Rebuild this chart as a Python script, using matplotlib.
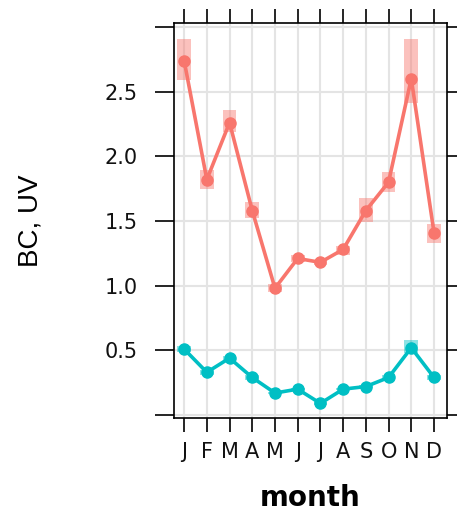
import matplotlib
matplotlib.use("Agg")
import matplotlib.pyplot as plt
import numpy as np

months = ["J", "F", "M", "A", "M", "J", "J", "A", "S", "O", "N", "D"]
bc_mean = [2.74, 1.82, 2.26, 1.58, 0.98, 1.21, 1.18, 1.28, 1.58, 1.80, 2.60, 1.41]
bc_low = [2.59, 1.75, 2.19, 1.52, 0.95, 1.18, 1.16, 1.24, 1.49, 1.72, 2.41, 1.33]
bc_high = [2.91, 1.89, 2.36, 1.65, 1.01, 1.24, 1.20, 1.31, 1.68, 1.88, 2.91, 1.48]
uv_mean = [0.51, 0.33, 0.44, 0.29, 0.17, 0.20, 0.09, 0.20, 0.22, 0.29, 0.52, 0.29]
uv_low = [0.49, 0.31, 0.42, 0.27, 0.16, 0.19, 0.08, 0.19, 0.21, 0.27, 0.48, 0.27]
uv_high = [0.53, 0.35, 0.46, 0.31, 0.18, 0.21, 0.10, 0.21, 0.23, 0.31, 0.58, 0.31]
y_ticks = [0.0, 0.5, 1.0, 1.5, 2.0, 2.5, 3.0]
y_labels = ["", "0.5", "1.0", "1.5", "2.0", "2.5", ""]

red = "#F8766D"
teal = "#00BFC4"

fig = plt.figure(figsize=(4.57, 5.17), dpi=100)
ax = fig.add_axes([0.381, 0.1915, 0.597, 0.764])

x = np.arange(1, 13)

ax.set_xlim(0.56, 12.57)
ax.set_ylim(-0.023, 3.03)

# grid
for xv in x:
    ax.axvline(xv, color="#e4e4e4", lw=1.5, zorder=0)
for yv in y_ticks:
    ax.axhline(yv, color="#e4e4e4", lw=1.5, zorder=0)

# error bands
w = 0.6
ax.bar(x, np.array(bc_high) - np.array(bc_low), bottom=bc_low, width=w,
       color=red, alpha=0.45, lw=0, zorder=1)
ax.bar(x, np.array(uv_high) - np.array(uv_low), bottom=uv_low, width=w,
       color=teal, alpha=0.45, lw=0, zorder=1)

ax.plot(x, bc_mean, color=red, lw=2.6, marker="o", ms=8, zorder=3)
ax.plot(x, uv_mean, color=teal, lw=2.6, marker="o", ms=8, zorder=3)

ax.set_xticks(x)
ax.set_xticklabels(months, fontsize=15, family="DejaVu Sans")
ax.set_yticks(y_ticks)
ax.set_yticklabels(y_labels, fontsize=15, family="DejaVu Sans")

ax.tick_params(axis="y", direction="out", length=14, width=1.2, pad=12,
               right=True, left=True, colors="black")
ax.tick_params(axis="x", direction="out", length=10, width=1.2, pad=7,
               top=True, bottom=True, colors="black")
ax.tick_params(axis="both", labelcolor="#111111")

for s in ax.spines.values():
    s.set_linewidth(1.2)
    s.set_color("black")

ax.set_xlabel("month", fontsize=20, fontweight="bold", family="DejaVu Sans",
              labelpad=16)
ax.set_ylabel("BC, UV", fontsize=20,
              family=["Liberation Sans Narrow", "Liberation Sans"], labelpad=44)

fig.savefig("out.png", dpi=100)
